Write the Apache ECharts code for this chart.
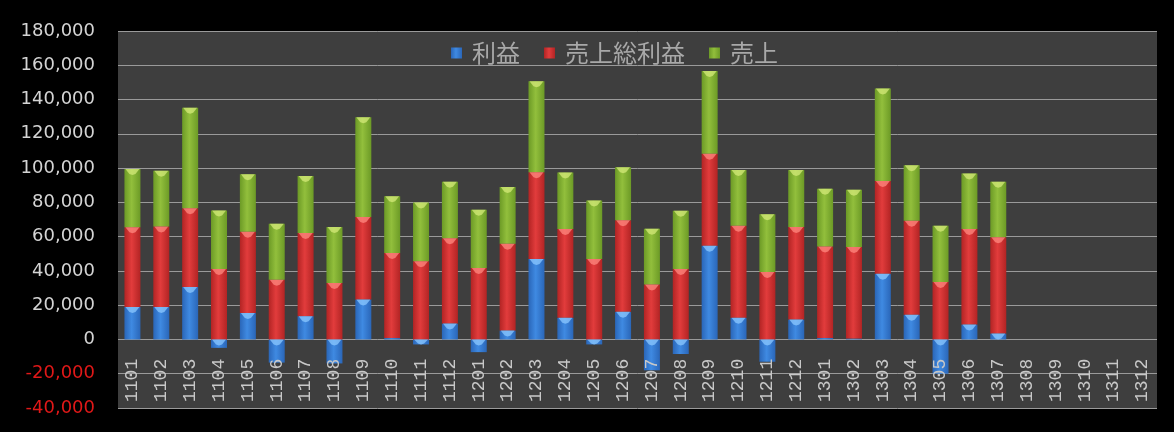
<!DOCTYPE html>
<html>
<head>
<meta charset="utf-8">
<script src="https://cdn.jsdelivr.net/npm/echarts@6/dist/echarts.min.js"></script>
<style>
  html, body { margin: 0; padding: 0; background: #000; }
  #chart { width: 1174px; height: 432px; }
</style>
</head>
<body>
<div id="chart"></div>
<script>
// Months (YYMM)
const months = [
  '1101','1102','1103','1104','1105','1106','1107','1108','1109','1110','1111','1112',
  '1201','1202','1203','1204','1205','1206','1207','1208','1209','1210','1211','1212',
  '1301','1302','1303','1304','1305','1306','1307','1308','1309','1310','1311','1312'
];

// 利益
const profit = [
  19000, 19000, 30600, -4900, 15500, -13500, 13600, -14000, 23300, 800, -2900, 9300,
  -7400, 5200, 47000, 12600, -2900, 16100, -18000, -8500, 54700, 12600, -13000, 11600,
  800, 500, 38400, 14400, -20000, 8700, 3500, null, null, null, null, null
];

// 売上総利益
const grossProfit = [
  46500, 46900, 46000, 41100, 47400, 34900, 48500, 33000, 48100, 49700, 45600, 49700,
  41700, 50700, 50600, 51800, 47000, 53400, 32000, 41100, 53600, 53700, 39400, 54000,
  53500, 53400, 54100, 54900, 33600, 55700, 56100, null, null, null, null, null
];

// 売上
const sales = [
  34000, 32500, 58600, 34200, 33500, 32600, 33300, 32600, 58200, 33100, 34300, 33100,
  34000, 33000, 53100, 33000, 34100, 31000, 32600, 34000, 48400, 32600, 33700, 33300,
  33600, 33400, 54000, 32400, 32700, 32400, 32500, null, null, null, null, null
];

const seriesNames = ['利益', '売上総利益', '売上'];
const BAR_W = 16;

function cylinder(edge, mid) {
  return new echarts.graphic.LinearGradient(0, 0, 1, 0, [
    { offset: 0, color: edge },
    { offset: 0.45, color: mid },
    { offset: 1, color: edge }
  ]);
}

const styles = [
  { color: cylinder('#2a66b8', '#3f8ae2'), legend: '#3a84dc', cap: '#8cc8ff' },
  { color: cylinder('#b22424', '#e23c3c'), legend: '#d83434', cap: '#ff8a80' },
  { color: cylinder('#6c9a26', '#92bf3c'), legend: '#8ab536', cap: '#d4ea7a' }
];

// Top and bottom of every stacked segment: [month index, top, bottom, style index]
const caps = [];
months.forEach((m, i) => {
  if (profit[i] == null) return;
  const blueTop = Math.max(profit[i], 0);
  const blueBottom = Math.min(profit[i], 0);
  const redTop = blueTop + grossProfit[i];
  const greenTop = redTop + sales[i];
  caps.push([i, blueTop, blueBottom, 0], [i, redTop, blueTop, 1], [i, greenTop, redTop, 2]);
});

const chart = echarts.init(document.getElementById('chart'));

const makeSeries = (name, data, st) => ({
  name: name,
  type: 'bar',
  stack: 'total',
  data: data,
  barWidth: BAR_W,
  itemStyle: { color: st.color },
  emphasis: { disabled: true }
});

chart.setOption({
  backgroundColor: '#000000',
  animation: false,
  color: styles.map(s => s.legend),
  legend: {
    top: 36,
    left: 446,
    itemWidth: 11,
    itemHeight: 11,
    itemGap: 24,
    icon: 'rect',
    textStyle: {
      color: '#a8a8a8',
      fontSize: 24,
      fontFamily: '"Noto Sans CJK JP", sans-serif',
      padding: [0, 0, 0, 5]
    },
    data: seriesNames
  },
  grid: {
    left: 118,
    right: 17,
    top: 31,
    bottom: 24,
    show: true,
    backgroundColor: '#3e3e3e',
    borderWidth: 0
  },
  xAxis: {
    type: 'category',
    data: months,
    z: 5,
    axisLine: { show: false },
    axisTick: { show: false },
    axisLabel: {
      inside: true,
      rotate: 90,
      interval: 0,
      margin: 6,
      color: '#c8c8c8',
      fontSize: 18,
      fontFamily: '"Liberation Mono", monospace'
    }
  },
  yAxis: {
    type: 'value',
    min: -40000,
    max: 180000,
    interval: 20000,
    axisLine: { show: false },
    axisTick: { show: false },
    splitLine: { lineStyle: { color: '#9a9a9a', width: 1 } },
    axisLabel: {
      margin: 23,
      fontSize: 18,
      fontFamily: '"DejaVu Sans", sans-serif',
      color: function (v) { return v < 0 ? '#e01818' : '#d4d4d4'; },
      formatter: function (v) { return v.toLocaleString('en-US'); }
    }
  },
  series: [
    makeSeries(seriesNames[0], profit, styles[0]),
    makeSeries(seriesNames[1], grossProfit, styles[1]),
    makeSeries(seriesNames[2], sales, styles[2]),
    {
      // bevelled highlight on the top of each segment
      type: 'custom',
      data: caps,
      z: 3,
      silent: true,
      encode: { x: 0, y: 1 },
      renderItem: function (params, api) {
        const p = api.coord([api.value(0), api.value(1)]);
        const pb = api.coord([api.value(0), api.value(2)]);
        const depth = Math.min(6, pb[1] - p[1]);
        if (depth < 2) return null;
        const st = styles[api.value(3)];
        const h = BAR_W / 2;
        const k = depth / 6;
        return {
          type: 'polygon',
          shape: {
            points: [
              [p[0] - h + 1, p[1]], [p[0] + h - 1, p[1]],
              [p[0] + 3, p[1] + 5 * k], [p[0], p[1] + depth], [p[0] - 3, p[1] + 5 * k]
            ]
          },
          style: { fill: st.cap, opacity: 0.75 }
        };
      }
    }
  ]
});
</script>
</body>
</html>
